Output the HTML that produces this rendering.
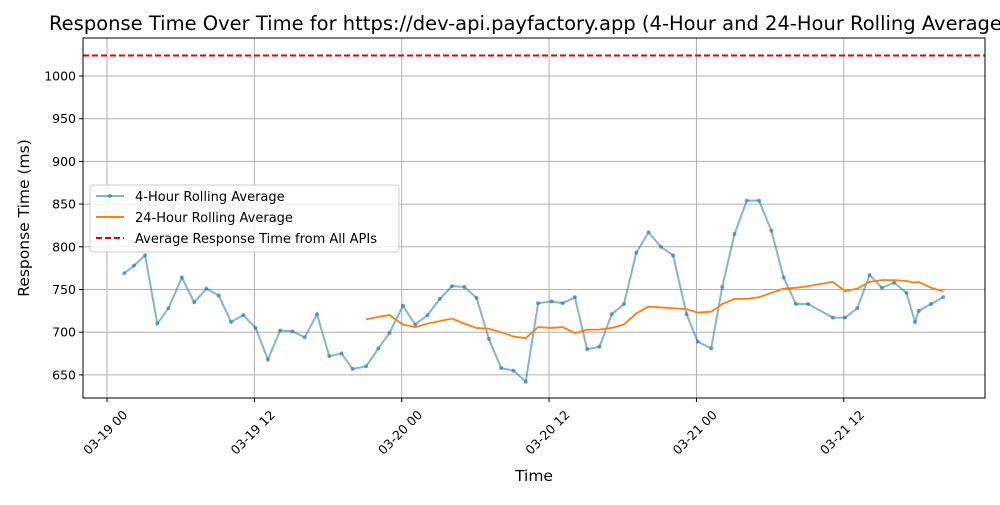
<!DOCTYPE html>
<html><head><meta charset="utf-8"><style>
body{margin:0;background:#fff;}
svg text{font-family:"DejaVu Sans","Liberation Sans",sans-serif;}
</style></head><body>
<svg id="chart" width="1000" height="500" xmlns="http://www.w3.org/2000/svg">
<rect width="1000" height="500" fill="#fff"/>
<text x="49" y="30" font-size="19.5" fill="#000">Response Time Over Time for https://dev-api.payfactory.app (4-Hour and 24-Hour Rolling Average)</text>
<g id="grid"></g><g id="plot"></g><g id="axes"></g>
<text x="534" y="481" font-size="15.5" text-anchor="middle">Time</text>
<text transform="translate(29,218) rotate(-90)" font-size="15.5" text-anchor="middle">Response Time (ms)</text>
<g>
<rect x="90" y="185" width="309" height="67" rx="3" fill="#fff" fill-opacity="0.8" stroke="#ccc"/>
<line x1="96" y1="196" x2="124" y2="196" stroke="#1f77b4" stroke-opacity="0.55" stroke-width="2"/>
<circle cx="110" cy="196" r="2" fill="#1f77b4" fill-opacity="0.6"/>
<text x="135" y="201" font-size="13">4-Hour Rolling Average</text>
<line x1="96" y1="217" x2="124" y2="217" stroke="#ff7f0e" stroke-width="2"/>
<text x="135" y="222" font-size="13">24-Hour Rolling Average</text>
<line x1="96" y1="238" x2="124" y2="238" stroke="#e00" stroke-width="2" stroke-dasharray="6,3"/>
<text x="135" y="243" font-size="13">Average Response Time from All APIs</text>
</g>
</svg>
<script>
const hours4=[1.4,2.2,3.1,4.1,5.0,6.1,7.1,8.1,9.1,10.1,11.1,12.1,13.1,14.1,15.1,16.1,17.1,18.1,19.1,20.0,21.1,22.1,23.0,24.1,25.1,26.1,27.1,28.1,29.1,30.1,31.1,32.1,33.1,34.1,35.1,36.2,37.1,38.1,39.1,40.1,41.1,42.1,43.1,44.1,45.1,46.1,47.2,48.1,49.2,50.1,51.1,52.1,53.1,54.1,55.1,56.1,57.1,59.1,60.1,61.1,62.1,63.1,64.1,65.1,65.8,66.1,67.1,68.1];
const values4=[769,778,790,710,728,764,735,751,743,712,720,705,668,702,701,694,721,672,675,657,660,681,699,731,709,720,739,754,753,740,692,658,655,642,734,736,734,741,680,683,721,733,793,817,800,790,721,689,681,753,815,854,854,819,764,733,733,717,717,728,767,752,758,746,712,725,733,741];
const hours24=hours4.slice(20);
const values24=[715,718,720,709,706,710,713,716,710,705,704,700,695,693,706,705,706,699,703,703,705,709,722,730,729,728,727,723,724,733,739,739,741,746,751,752,754,759,748,751,759,761,761,760,758,759,752,748];
const overallAvg=1024;
const yTicks=[650,700,750,800,850,900,950,1000];
const xTickHours=[0,12,24,36,48,60];
const xTickLabels=["03-19 00","03-19 12","03-20 00","03-20 12","03-21 00","03-21 12"];
const L=83,R=985,T=38,B=398;
const X=h=>107+h*12.28;
const Y=v=>76+(1000-v)*0.854;
const NS="http://www.w3.org/2000/svg";
function mk(tag,parent,attrs){const e=document.createElementNS(NS,tag);for(const k in attrs)e.setAttribute(k,attrs[k]);parent.appendChild(e);return e;}
const grid=document.getElementById('grid'),plot=document.getElementById('plot'),axes=document.getElementById('axes');
yTicks.forEach(v=>{
  const g=mk('line',grid,{x1:L,x2:R,y1:Y(v),y2:Y(v),stroke:'#b0b0b0','stroke-width':1});
  
  
  mk('line',axes,{x1:L-4,x2:L,y1:Y(v),y2:Y(v),stroke:'#000'});
  const t=mk('text',axes,{x:L-7,y:Y(v)+4.5,'font-size':12.5,'text-anchor':'end'});
  t.textContent=v;
  
  
});
xTickHours.forEach((h,i)=>{
  const x=X(h);
  const g=mk('line',grid,{x1:x,x2:x,y1:T,y2:B,stroke:'#b0b0b0','stroke-width':1});
  
  
  mk('line',axes,{x1:x,x2:x,y1:B,y2:B+4,stroke:'#000'});
  const t=mk('text',axes,{transform:`translate(${x-1},${B+35}) rotate(-45)`,'font-size':12.5,'text-anchor':'middle','dominant-baseline':'middle'});
  t.textContent=xTickLabels[i];
  
  
});
const avg=mk('line',plot,{x1:L,x2:R,y1:Y(overallAvg),y2:Y(overallAvg),stroke:'#e00','stroke-width':2,'stroke-dasharray':'6,3'});


const p4=mk('polyline',plot,{points:hours4.map((h,i)=>X(h)+','+Y(values4[i])).join(' '),fill:'none',stroke:'#1f77b4','stroke-opacity':0.55,'stroke-width':2});


hours4.forEach((h,i)=>{
  const c=mk('circle',plot,{cx:X(h),cy:Y(values4[i]),r:2,fill:'#1f77b4','fill-opacity':0.6});
  
  
});
const p24=mk('polyline',plot,{points:hours24.map((h,i)=>X(h)+','+Y(values24[i])).join(' '),fill:'none',stroke:'#ff7f0e','stroke-width':1.8});


const fr=mk('rect',axes,{x:L,y:T,width:R-L,height:B-T,fill:'none',stroke:'#000','stroke-width':1});


</script>
</body></html>
